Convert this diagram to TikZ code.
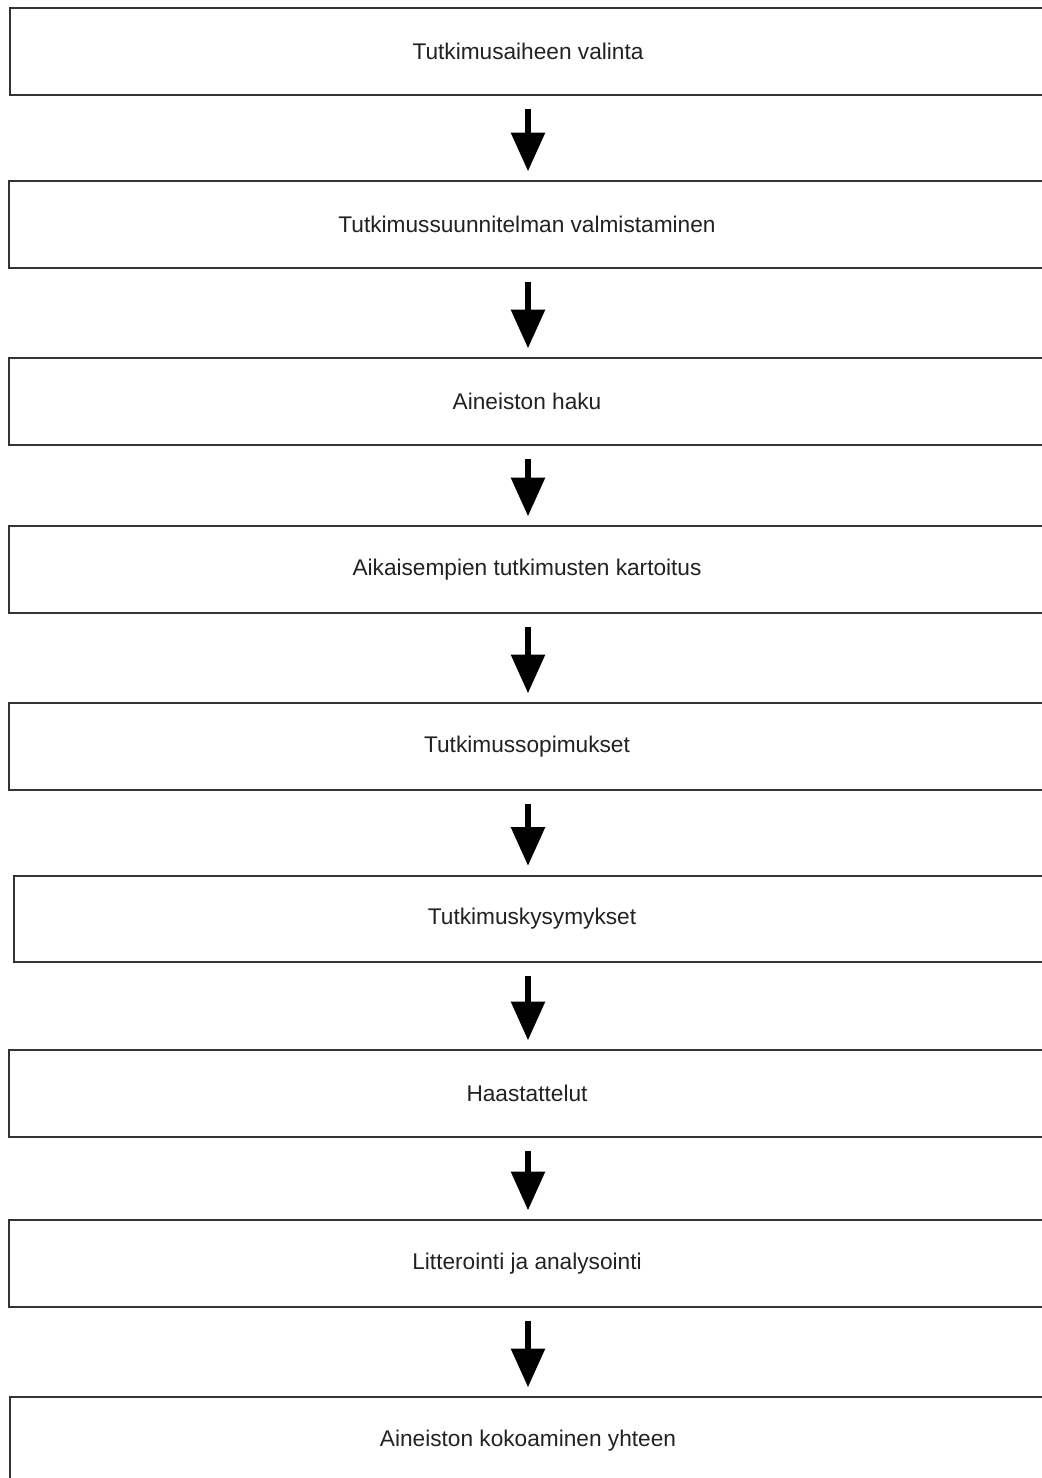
\documentclass[tikz,border=0pt]{standalone}
\usepackage{fontspec}
\setmainfont{Liberation Sans}
\usepackage{xcolor}
\definecolor{frame}{RGB}{51,51,51}
\definecolor{ink}{RGB}{34,34,34}
\usetikzlibrary{arrows.meta,positioning}
\tikzset{
  %% one step of the research process
  stepbox/.style={draw=frame, line width=1.5pt, fill=white,
    minimum width=777pt, minimum height=65pt, inner sep=0pt,
    text=ink, font=\fontsize{17}{20}\selectfont},
  %% heavy down arrow between steps
  flowarrow/.style={-{Triangle[length=29pt,width=25pt]},
    line width=3.8pt, black},
}
\begin{document}
\begin{tikzpicture}[x=0.75pt,y=-0.75pt]
\useasboundingbox (0,0) rectangle (1042,1478);
\fill[white] (0,0) rectangle (1042,1478);
\clip (0,0) rectangle (1042,1478);
\node[stepbox] (s1) at (528,51.5)  {Tutkimusaiheen valinta};
\node[stepbox] (s2) at (527,224.5) {Tutkimussuunnitelman valmistaminen};
\node[stepbox] (s3) at (527,401.5) {Aineiston haku};
\node[stepbox] (s4) at (527,569.5) {Aikaisempien tutkimusten kartoitus};
\node[stepbox] (s5) at (527,746.5) {Tutkimussopimukset};
\node[stepbox] (s6) at (532,919)   {Tutkimuskysymykset};
\node[stepbox] (s7) at (527,1093.5) {Haastattelut};
\node[stepbox] (s8) at (527,1263.5) {Litterointi ja analysointi};
\node[stepbox] (s9) at (528,1440.5) {Aineiston kokoaminen yhteen};
\foreach \a/\b in {s1/s2,s2/s3,s3/s4,s4/s5,s5/s6,s6/s7,s7/s8,s8/s9}
  \draw[flowarrow] ([yshift=-9.75pt]\a.south -| s1.south)
    -- ([yshift=6.75pt]s1.south |- \b.north);
\end{tikzpicture}
\end{document}
